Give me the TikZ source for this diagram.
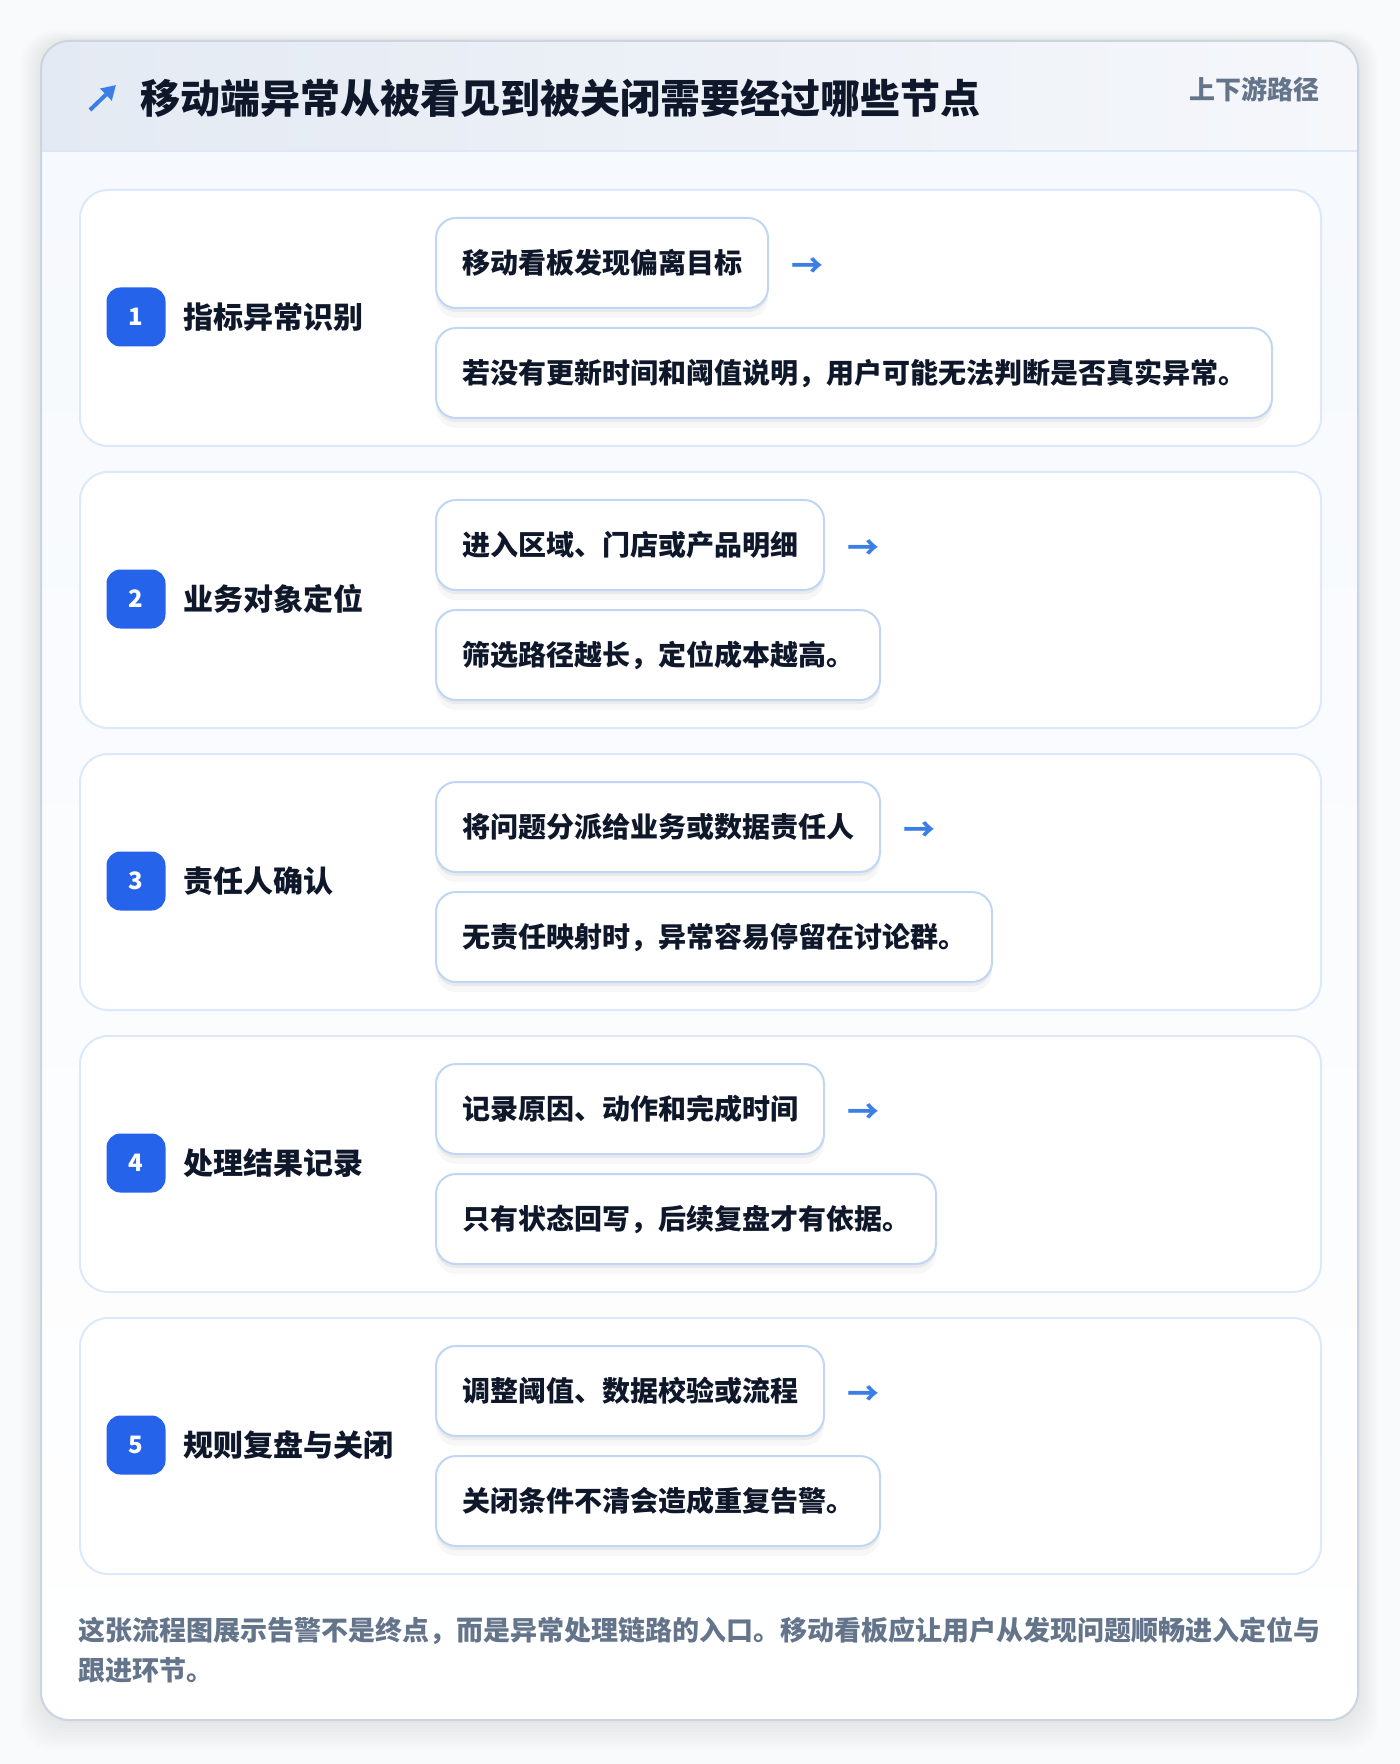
\documentclass[tikz,border=0pt]{standalone}
\usepackage{fontspec}
\setmainfont{Noto Sans CJK SC}
\usetikzlibrary{positioning, shadows, arrows.meta}
\definecolor{pagebg}{HTML}{F9FAFB}
\definecolor{cardline}{HTML}{CBD5E1}
\definecolor{headL}{HTML}{E4EAF3}
\definecolor{headR}{HTML}{F5F7FB}
\definecolor{headline}{HTML}{DCE8F6}
\definecolor{bodytop}{HTML}{F6F9FD}
\definecolor{stepline}{HTML}{DCE9FA}
\definecolor{boxline}{HTML}{BFD7F5}
\definecolor{badgeblue}{HTML}{2563EB}
\definecolor{arrowblue}{HTML}{3B7FE6}
\definecolor{ink}{HTML}{0F172A}
\definecolor{muted}{HTML}{64748B}
\tikzstyle{stepcard}=[draw=stepline,line width=1pt,fill=white,rounded corners=14pt,minimum width=620.5pt,minimum height=128pt,anchor=north west,inner sep=0]
\tikzstyle{badge}=[fill=badgeblue,text=white,rounded corners=7pt,minimum size=29.5pt,inner sep=0,font=\fontsize{12}{12}\selectfont\bfseries]
\tikzstyle{steptitle}=[anchor=west,inner sep=0,text=ink,font=\fontsize{15}{18}\selectfont\bfseries]
\tikzstyle{actionbox}=[draw=boxline,line width=1pt,fill=white,rounded corners=10pt,minimum height=45pt,inner xsep=13pt,inner ysep=0,anchor=north west,text=ink,font=\fontsize{14}{17}\selectfont\bfseries,
  drop shadow={shadow xshift=0pt,shadow yshift=-2pt,opacity=.05,fill=black},
  drop shadow={shadow xshift=0pt,shadow yshift=-5pt,opacity=.03,fill=black}]
\tikzstyle{nextarrow}=[inner sep=0,text=arrowblue,font=\fontsize{16}{16}\selectfont\bfseries]
\tikzstyle{titlearrow}=[arrowblue,line width=2pt,-{Triangle[length=7pt,width=8pt]}]

\begin{document}
\begin{tikzpicture}[x=0.5pt,y=-0.5pt]
\useasboundingbox (0,0) rectangle (1400,1764);
\fill[pagebg] (0,0) rectangle (1400,1764);

% soft shadow round the main card
\foreach \s in {1,...,10}{
	\fill[black,opacity=0.006,rounded corners=16pt] (41-2*\s,41-\s) rectangle (1358+2*\s,1720+3*\s);}

\begin{scope}
\clip[rounded corners=14pt] (41,41) rectangle (1358,1720);
\shade[top color=bodytop,bottom color=white] (41,151) rectangle (1358,1720);
\shade[left color=headL,right color=headR] (41,41) rectangle (1358,151);
\draw[headline,line width=1pt] (41,151) -- (1358,151);
\end{scope}
\draw[cardline,line width=1pt,rounded corners=14pt] (41,41) rectangle (1358,1720);

% header
\coordinate (icontail) at (90,110);
\coordinate (iconhead) at (116,85);
\draw[titlearrow] (icontail) -- (iconhead);
\node[anchor=west,inner sep=0,text=ink,font=\fontsize{20}{24}\selectfont\bfseries] (title) at (140,98) {移动端异常从被看见到被关闭需要经过哪些节点};
\node[anchor=east,inner sep=0,text=muted,font=\fontsize{13}{15}\selectfont\bfseries] (tag) at (1320,89) {上下游路径};

% steps
\foreach \n/\y/\name/\act/\note in {
	1/189/指标异常识别/移动看板发现偏离目标/若没有更新时间和阈值说明，用户可能无法判断是否真实异常。,
	2/471/业务对象定位/进入区域、门店或产品明细/筛选路径越长，定位成本越高。,
	3/753/责任人确认/将问题分派给业务或数据责任人/无责任映射时，异常容易停留在讨论群。,
	4/1035/处理结果记录/记录原因、动作和完成时间/只有状态回写，后续复盘才有依据。,
	5/1317/规则复盘与关闭/调整阈值、数据校验或流程/关闭条件不清会造成重复告警。}{
	\node[stepcard] (card\n) at (79,\y) {};
	\node[badge] (badge\n) at (136,\y+128) {\n};
	\node[steptitle] (name\n) at (183,\y+128) {\name};
	\node[actionbox] (act\n) at (435,\y+28) {\act};
	\node[actionbox] (note\n) at (435,\y+138) {\note};
	\node[nextarrow,right=11pt of act\n,yshift=-2.5pt] (next\n) {→};
}

\node[anchor=west,inner sep=0,align=left,text=muted,font=\fontsize{13.5}{20}\selectfont\bfseries] (caption) at (78,1650) {这张流程图展示告警不是终点，而是异常处理链路的入口。移动看板应让用户从发现问题顺畅进入定位与\\跟进环节。};
\end{tikzpicture}
\end{document}
